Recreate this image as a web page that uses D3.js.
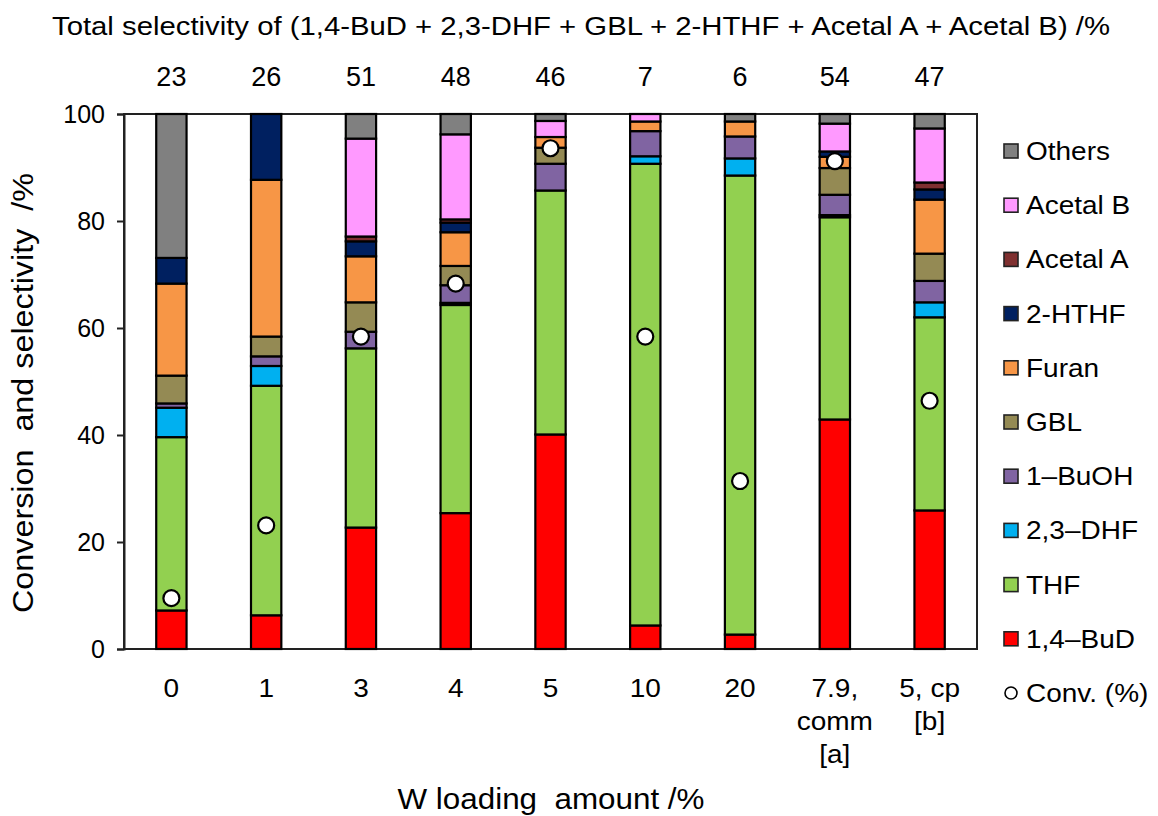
<!DOCTYPE html>
<html><head><meta charset="utf-8">
<script src="https://cdn.jsdelivr.net/npm/d3@7"></script>
<style>
body{margin:0;background:#fff;}
svg{display:block;font-family:"Liberation Sans",Arial,sans-serif;}
</style></head>
<body><svg id="c" width="1158" height="816"></svg>
<script>
const categories = ["0","1","3","4","5","10","20","7.9,|comm|[a]","5, cp|[b]"];
const totalSelectivity = ["23","26","51","48","46","7","6","54","47"];
const seriesNames = ["1,4\u2013BuD","THF","2,3\u2013DHF","1\u2013BuOH","GBL","Furan","2-HTHF","Acetal A","Acetal B","Others"];
const seriesColors = ["#FF0000","#92D050","#00B0F0","#8064A2","#948A54","#F79646","#002060","#7F3030","#FF99FF","#808080"];
const buD     = [7.2, 6.3, 22.7, 25.4, 40.1, 4.4, 2.7, 42.9, 25.9];
const thf     = [32.4,42.9,33.5, 38.9, 45.6,86.3,85.8, 37.8, 36.1];
const dhf     = [5.5, 3.7, 0.0,  0.4,  0.0, 1.4, 3.2,  0.4,  2.8];
const buOH    = [0.8, 1.8, 3.1,  3.3,  5.0, 4.7, 4.1,  3.8,  4.0];
const gbl     = [5.2, 3.7, 5.5,  3.6,  3.0, 0.0, 0.0,  5.0,  5.1];
const furan   = [17.2,29.3,8.6,  6.3,  2.0, 1.8, 2.8,  2.1, 10.1];
const hthf    = [4.8,12.3, 2.8,  1.8,  0.0, 0.0, 0.0,  1.0,  1.9];
const acetalA = [0.0, 0.0, 0.9,  0.6,  0.0, 0.0, 0.0,  0.0,  1.3];
const acetalB = [0.0, 0.0,18.3, 15.9,  3.0, 1.4, 0.0,  5.2, 10.1];
const others  = [26.9,0.0, 4.6,  3.8,  1.3, 0.0, 1.4,  1.8,  2.7];
const conversion = [9.5, 23.1, 58.4, 68.3, 93.6, 58.4, 31.4, 91.2, 46.4];
const yTicks = [0,20,40,60,80,100];

const seriesValues = [buD,thf,dhf,buOH,gbl,furan,hthf,acetalA,acetalB,others];
const svg = d3.select("#c");
const L=124,R=977,T=114,B=649;
const SX = 1.12; // horizontal stretch of text in the reference
const x = d3.scaleBand().domain(categories).range([L,R]).paddingInner(0.68).paddingOuter(0.34);
const y = d3.scaleLinear().domain([0,100]).range([B,T]);

const rows = categories.map((c,i)=>{const o={cat:c}; seriesNames.forEach((s,j)=>o[s]=seriesValues[j][i]); return o;});
const stack = d3.stack().keys(seriesNames)(rows);

// plot frame
svg.append("rect").attr("x",L).attr("y",T).attr("width",R-L).attr("height",B-T)
  .attr("fill","none").attr("stroke","#222").attr("stroke-width",2);

// bars
stack.forEach((layer,j)=>{
  svg.append("g").selectAll("rect").data(layer.filter(d=>d[1]-d[0]>0)).join("rect")
    .attr("x",d=>x(d.data.cat)).attr("width",x.bandwidth())
    .attr("y",d=>y(d[1])).attr("height",d=>y(d[0])-y(d[1]))
    .attr("fill",seriesColors[j]).attr("stroke","#000").attr("stroke-width",2.2);
});

// conversion points
svg.append("g").selectAll("circle").data(conversion).join("circle")
  .attr("cx",(d,i)=>x(categories[i])+x.bandwidth()/2).attr("cy",d=>y(d))
  .attr("r",8).attr("fill","#fff").attr("stroke","#000").attr("stroke-width",2.2);

// y axis
const ya = svg.append("g").attr("transform",`translate(${L},0)`)
  .call(d3.axisLeft(y).tickValues(yTicks).tickSize(7).tickPadding(12));
ya.select(".domain").attr("stroke","#222").attr("stroke-width",2);
ya.selectAll(".tick line").attr("stroke","#222").attr("stroke-width",2);
ya.selectAll(".tick text").attr("font-size",25).attr("font-family","Liberation Sans, Arial").attr("fill","#000");

// x axis labels
const xa = svg.append("g").attr("transform",`translate(0,${B})`)
  .call(d3.axisBottom(x).tickSize(0).tickPadding(0).tickFormat(""));
xa.select(".domain").remove();
categories.forEach(c=>{
  const cx = x(c)+x.bandwidth()/2;
  const t = svg.append("text").attr("transform",`translate(${cx},697) scale(${SX},1)`)
    .attr("text-anchor","middle").attr("font-size",25).attr("fill","#000");
  c.split("|").forEach((ln,k)=>t.append("tspan").attr("x",0).attr("y",k*33).text(ln));
});

// axis titles
svg.append("text").attr("x",551).attr("y",809).attr("text-anchor","middle").attr("font-size",29)
  .attr("xml:space","preserve").attr("textLength",307).attr("lengthAdjust","spacingAndGlyphs")
  .text("W loading  amount /%");
svg.append("text").attr("transform",`translate(33,393) rotate(-90)`).attr("text-anchor","middle")
  .attr("font-size",29).attr("xml:space","preserve").attr("textLength",440).attr("lengthAdjust","spacingAndGlyphs")
  .text("Conversion  and selectivity  /%");

// top title + totals
svg.append("text").attr("x",52).attr("y",35).attr("font-size",26)
  .attr("textLength",1058).attr("lengthAdjust","spacingAndGlyphs")
  .text("Total selectivity of (1,4-BuD + 2,3-DHF + GBL + 2-HTHF + Acetal A + Acetal B) /%");
svg.append("g").selectAll("text").data(totalSelectivity).join("text")
  .attr("x",(d,i)=>x(categories[i])+x.bandwidth()/2).attr("y",86)
  .attr("text-anchor","middle").attr("font-size",27).text(d=>d);

// legend
const legendOrder = seriesNames.map((s,j)=>j).reverse();
const lg = svg.append("g");
legendOrder.forEach((j,k)=>{
  const cy = 151 + k*54.2;
  lg.append("rect").attr("x",1004).attr("y",cy-7).attr("width",14).attr("height",14)
    .attr("fill",seriesColors[j]).attr("stroke","#222").attr("stroke-width",1.6);
  lg.append("text").attr("transform",`translate(1026,${cy+9}) scale(${SX},1)`).attr("font-size",25).text(seriesNames[j]);
});
const cyc = 151 + 10*54.2;
lg.append("circle").attr("cx",1011).attr("cy",cyc).attr("r",6).attr("fill","#fff").attr("stroke","#000").attr("stroke-width",1.6);
lg.append("text").attr("transform",`translate(1026,${cyc+9}) scale(${SX},1)`).attr("font-size",25).text("Conv. (%)");
</script></body></html>
